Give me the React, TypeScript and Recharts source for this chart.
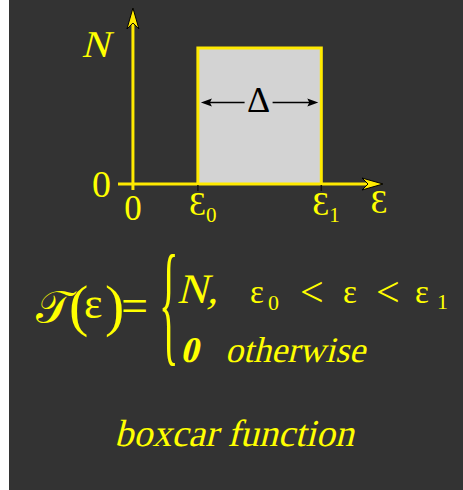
import React from "react";
import { ComposedChart, Area, XAxis, YAxis, ReferenceLine } from "recharts";

// boxcar: height N between eps0 and eps1, zero elsewhere
const N = 1;
const EPS0 = 1;
const EPS1 = 2.9;
const X_MIN = -0.23;
const X_MAX = 3.85;
const Y_MAX = 1.294;
const Y_BELOW = -0.044;
const DELTA_LEVEL = 0.6;

const boxX = [EPS0, EPS0, EPS1, EPS1];
const boxY = [0, N, N, 0];

const xTicks = [0, EPS0, EPS1];
const xTickMain = ["0", "Ɛ", "Ɛ"];
const xTickSub = ["", "0", "1"];

const yTicks = [0, N];
const yTickLabels = ["0", "N"];

const boxData = boxX.map((x, i) => ({ x, y: boxY[i] }));

const LINE = "#ffea00";
const TEXT = "#ffff00";
const BG = "#333333";
const SERIF = "Liberation Serif";

// upright serif slanted by hand, so italics stay in the serif face
function Slanted(props: { x: number; y: number; size: number; bold?: boolean; anchor?: string; children: React.ReactNode }) {
  const { x, y, size, bold, anchor, children } = props;
  return (
    <text
      transform={`translate(${x} ${y}) skewX(-14)`}
      fontFamily={SERIF}
      fontSize={size}
      fontWeight={bold ? "bold" : "normal"}
      textAnchor={anchor || "start"}
      fill={TEXT}
    >
      {children}
    </text>
  );
}

function arrowPoints(tx: number, ty: number, dx: number, dy: number, len: number, half: number, notch: number) {
  const nx = -dy;
  const ny = dx;
  const bx = tx - dx * len;
  const by = ty - dy * len;
  const mx = tx - dx * (len - notch);
  const my = ty - dy * (len - notch);
  return `${tx},${ty} ${bx + nx * half},${by + ny * half} ${mx},${my} ${bx - nx * half},${by - ny * half}`;
}

function AxisArrow(props: any) {
  const { x1, y1, x2, y2, caption } = props;
  const L = Math.hypot(x2 - x1, y2 - y1) || 1;
  const dx = (x2 - x1) / L;
  const dy = (y2 - y1) / L;
  return (
    <g>
      <line x1={x1} y1={y1} x2={x2 - dx * 14} y2={y2 - dy * 14} stroke={LINE} strokeWidth={3} />
      <polygon points={arrowPoints(x2, y2, dx, dy, 21, 6, 6)} fill={LINE} stroke="#000" strokeWidth={1} />
      {caption ? (
        <text x={x2 - 4} y={y2 + 29} textAnchor="middle" fill={TEXT} fontFamily={SERIF} fontSize={34}>
          {caption}
        </text>
      ) : null}
    </g>
  );
}

function DeltaArrow(props: any) {
  const { x1, y1, x2 } = props;
  const left = x1 + 3;
  const right = x2 - 3;
  const mid = (left + right) / 2;
  return (
    <g>
      <line x1={left + 8} y1={y1} x2={mid - 15} y2={y1} stroke="#000" strokeWidth={1.5} />
      <line x1={mid + 13} y1={y1} x2={right - 8} y2={y1} stroke="#000" strokeWidth={1.5} />
      <polygon points={arrowPoints(left, y1, -1, 0, 11, 4, 2)} fill="#000" />
      <polygon points={arrowPoints(right, y1, 1, 0, 11, 4, 2)} fill="#000" />
      <text x={mid - 1} y={y1 + 10} textAnchor="middle" fill="#000" fontFamily={SERIF} fontSize={36}>
        Δ
      </text>
    </g>
  );
}

function XTick(props: any) {
  const { x, y, index } = props;
  const main = xTickMain[index];
  const sub = xTickSub[index];
  if (!sub) {
    return (
      <text x={x} y={y + 36} textAnchor="middle" fill={TEXT} fontFamily={SERIF} fontSize={35}>
        {main}
      </text>
    );
  }
  return (
    <g>
      <line x1={x} y1={y + 1} x2={x} y2={y + 7} stroke="#111" strokeWidth={1.5} />
      <text x={x - 9} y={y + 31} fill={TEXT} fontFamily={SERIF} fontSize={34}>
        {main}
      </text>
      <text x={x + 8} y={y + 38} fill={TEXT} fontFamily={SERIF} fontSize={21}>
        {sub}
      </text>
    </g>
  );
}

function YTick(props: any) {
  const { x, y, index } = props;
  const label = yTickLabels[index];
  if (label === "N") {
    return (
      <text
        transform={`translate(${x - 9} ${y + 9}) skewX(-14)`}
        textAnchor="end"
        fill={TEXT}
        fontFamily={SERIF}
        fontSize={38}
      >
        {label}
      </text>
    );
  }
  return (
    <text x={x - 7} y={y + 13} textAnchor="end" fill={TEXT} fontFamily={SERIF} fontSize={38}>
      {label}
    </text>
  );
}

function Formula() {
  return (
    <svg width={454} height={490} style={{ position: "absolute", left: 0, top: 0, pointerEvents: "none" }}>
      <g fill={TEXT} fontFamily={SERIF}>
        <text x={27} y={323} fontSize={46}>𝒯</text>
        <text x={60} y={325} fontSize={58}>(</text>
        <text x={75} y={318} fontSize={44}>ε</text>
        <text x={96} y={325} fontSize={58}>)</text>
        <text x={112} y={322} fontSize={48}>=</text>
        <text transform="translate(150 348) scale(0.3 1)" fontSize={136}>{"{"}</text>
        <text x={241} y={303} fontSize={33}>ε</text>
        <text x={259} y={310} fontSize={22}>0</text>
        <text x={291} y={306} fontSize={42}>&lt;</text>
        <text x={334} y={303} fontSize={33}>ε</text>
        <text x={367} y={306} fontSize={42}>&lt;</text>
        <text x={406} y={303} fontSize={33}>ε</text>
        <text x={428} y={309} fontSize={22}>1</text>
      </g>
      <Slanted x={168} y={303} size={42}>N,</Slanted>
      <Slanted x={171} y={362} size={36} bold>0</Slanted>
      <Slanted x={216} y={362} size={36}>otherwise</Slanted>
      <Slanted x={225} y={446} size={38} anchor="middle">boxcar function</Slanted>
    </svg>
  );
}

export default function App() {
  return (
    <div style={{ position: "fixed", left: 9, top: 0, width: 454, height: 490, background: BG }}>
      <ComposedChart
        width={454}
        height={490}
        data={boxData}
        margin={{ top: 8, right: 80, bottom: 266, left: 69 }}
      >
        <XAxis
          type="number"
          dataKey="x"
          domain={[X_MIN, X_MAX]}
          ticks={xTicks}
          allowDataOverflow
          axisLine={false}
          tickLine={false}
          tickSize={0}
          tickMargin={0}
          height={40}
          tick={<XTick />}
          interval={0}
        />
        <YAxis
          type="number"
          domain={[0, Y_MAX]}
          ticks={yTicks}
          allowDataOverflow
          axisLine={false}
          tickLine={false}
          tickSize={0}
          tickMargin={0}
          width={40}
          tick={<YTick />}
          interval={0}
        />
        <Area
          type="linear"
          dataKey="y"
          stroke={LINE}
          strokeWidth={3}
          fill="#d3d3d3"
          fillOpacity={1}
          dot={false}
          activeDot={false}
          isAnimationActive={false}
        />
        <ReferenceLine
          segment={[{ x: X_MIN, y: 0 }, { x: X_MAX, y: 0 }]}
          ifOverflow="visible"
          shape={(p: any) => <AxisArrow {...p} caption="Ɛ" />}
        />
        <ReferenceLine
          segment={[{ x: 0, y: Y_BELOW }, { x: 0, y: Y_MAX }]}
          ifOverflow="visible"
          shape={(p: any) => <AxisArrow {...p} />}
        />
        <ReferenceLine
          segment={[{ x: EPS0, y: DELTA_LEVEL }, { x: EPS1, y: DELTA_LEVEL }]}
          ifOverflow="visible"
          shape={(p: any) => <DeltaArrow {...p} />}
        />
      </ComposedChart>
      <Formula />
    </div>
  );
}
